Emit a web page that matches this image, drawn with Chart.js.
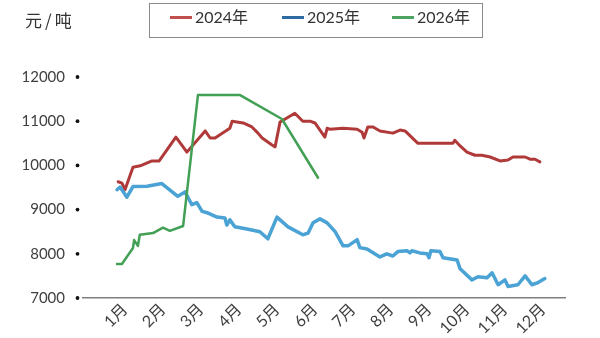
<!DOCTYPE html>
<html>
<head>
<meta charset="utf-8">
<script src="https://cdn.jsdelivr.net/npm/chart.js@4.4.1/dist/chart.umd.min.js"></script>
<style>
  html,body{margin:0;padding:0;background:#fff;}
  #wrap{position:relative;width:600px;height:338px;overflow:hidden;}
  canvas{position:absolute;left:0;top:0;}
  .unit{position:absolute;left:25px;top:7px;font:17px "Noto Sans CJK SC",sans-serif;color:#333;letter-spacing:3px;}
  .legend{position:absolute;left:149px;top:3px;width:334px;height:35px;box-sizing:border-box;border:1px solid #8a8a8a;}
  .item{position:absolute;top:0;height:33px;line-height:33px;font:16px Lato,"Noto Sans CJK SC",sans-serif;color:#333;white-space:nowrap;}
  .swatch{display:inline-block;width:22px;height:3px;vertical-align:middle;margin-right:3px;position:relative;top:-1px;}
</style>
</head>
<body>
<div id="wrap">
  <canvas id="c" width="600" height="338"></canvas>
  <div class="unit">元/吨</div>
  <div class="legend" id="legend"></div>
</div>
<script>
// ---- data (x = month position, y = 元/吨) ----
const monthLabels = ["1月","2月","3月","4月","5月","6月","7月","8月","9月","10月","11月","12月"];
const monthTicks  = [1,2,3,4,5,6,7,8,9,10,11,12];
const yTicks = [7000,8000,9000,10000,11000,12000];

const seriesNames = ["2024年","2025年","2026年"];

const x2024 = [0.82,0.92,1.00,1.21,1.40,1.71,1.90,2.34,2.63,3.11,3.24,3.37,3.76,3.82,4.11,4.34,4.50,4.61,4.87,4.95,5.08,5.16,5.47,5.68,5.87,6.00,6.26,6.32,6.39,6.74,7.11,7.24,7.29,7.39,7.53,7.71,8.05,8.24,8.37,8.71,9.63,9.68,9.82,10.00,10.21,10.39,10.61,10.87,11.08,11.21,11.53,11.66,11.79,11.92];
const y2024 = [9630,9600,9450,9960,9990,10100,10100,10640,10300,10780,10620,10620,10840,11000,10960,10870,10730,10620,10460,10420,10980,11020,11180,11000,11000,10960,10640,10840,10820,10840,10820,10750,10620,10870,10870,10780,10730,10800,10780,10500,10500,10570,10440,10300,10230,10230,10190,10100,10120,10190,10190,10140,10140,10080];

const x2025 = [0.79,0.87,1.05,1.21,1.58,1.97,2.39,2.58,2.76,2.89,3.03,3.16,3.42,3.63,3.68,3.76,3.89,4.21,4.55,4.76,5.00,5.29,5.68,5.82,5.95,6.13,6.32,6.53,6.74,6.87,7.11,7.18,7.37,7.71,7.89,8.05,8.18,8.42,8.50,8.55,8.76,8.95,9.00,9.05,9.29,9.37,9.74,9.82,10.13,10.29,10.53,10.66,10.82,11.00,11.08,11.34,11.53,11.71,11.87,12.05];
const y2025 = [9450,9510,9280,9520,9530,9590,9300,9400,9110,9160,8960,8930,8830,8810,8650,8770,8610,8560,8500,8340,8830,8610,8430,8470,8700,8790,8700,8500,8180,8180,8320,8140,8110,7930,8000,7950,8050,8070,8020,8070,8020,8000,7910,8070,8050,7910,7860,7660,7410,7480,7460,7570,7300,7410,7260,7300,7500,7300,7350,7440];

const x2026 = [0.79,0.92,1.21,1.24,1.34,1.39,1.74,2.00,2.18,2.53,2.92,4.03,5.13,6.08];
const y2026 = [7770,7770,8130,8310,8180,8430,8470,8590,8520,8630,11590,11590,11050,9720];

// ---- styles ----
const lineColors   = ["#B03A3A","#4AA3D4","#42A055"];
const legendColors = ["#C0504D","#2F6BA3","#4CA460"];
const lineWidths   = [3,3.5,2.5];
const drawOrder    = [2,1,0];

const pts = (xs, ys) => xs.map((x,i)=>({x:x, y:ys[i]}));
const allX = [x2024,x2025,x2026], allY = [y2024,y2025,y2026];

// HTML legend
const legendEl = document.getElementById('legend');
const itemLeft = [20,132,242];
seriesNames.forEach((n,i)=>{
  const d = document.createElement('div');
  d.className='item'; d.style.left = itemLeft[i]+'px';
  d.innerHTML = '<span class="swatch" style="background:'+legendColors[i]+'"></span>'+n;
  legendEl.appendChild(d);
});

const dotPlugin = {
  id:'ydots',
  afterDraw(chart){
    const s = chart.scales.y, ctx = chart.ctx;
    ctx.save(); ctx.fillStyle = '#111';
    s.ticks.forEach((t,i)=>{
      const py = s.getPixelForTick(i);
      ctx.beginPath(); ctx.arc(chart.chartArea.left-5.5, py, 1.9, 0, Math.PI*2); ctx.fill();
    });
    ctx.restore();
  }
};

new Chart(document.getElementById('c'), {
  type:'line',
  data:{
    datasets: seriesNames.map((n,i)=>({
      label:n,
      data:pts(allX[i], allY[i]),
      borderColor:lineColors[i],
      backgroundColor:lineColors[i],
      borderWidth:lineWidths[i],
      pointRadius:0,
      tension:0,
      order:drawOrder[i],
      borderJoinStyle:'round',
      borderCapStyle:'round'
    }))
  },
  options:{
    responsive:false,
    animation:false,
    devicePixelRatio:1,
    layout:{padding:{left:0,right:35,top:77,bottom:0}},
    plugins:{legend:{display:false},tooltip:{enabled:false}},
    scales:{
      x:{
        type:'linear',
        min:-0.105, max:12.58,
        afterBuildTicks(scale){ scale.ticks = monthTicks.map(v=>({value:v})); },
        afterFit(scale){ scale.height = 40; },
        grid:{display:false, drawTicks:false},
        border:{display:true,color:'#7f7f7f',width:1.5},
        ticks:{
          minRotation:45, maxRotation:45, autoSkip:false, padding:2,
          color:'#404040', font:{family:'Lato, "Noto Sans CJK SC"', size:16},
          callback:(v)=>monthLabels[monthTicks.indexOf(v)]
        }
      },
      y:{
        min:7000, max:12000,
        afterBuildTicks(scale){ scale.ticks = yTicks.map(v=>({value:v})); },
        afterFit(scale){ scale.width = 83; },
        grid:{display:false, drawTicks:false},
        border:{display:false},
        ticks:{padding:18,color:'#404040',font:{family:'Lato', size:15},callback:(v)=>String(v)}
      }
    }
  },
  plugins:[dotPlugin]
});
</script>
</body>
</html>
